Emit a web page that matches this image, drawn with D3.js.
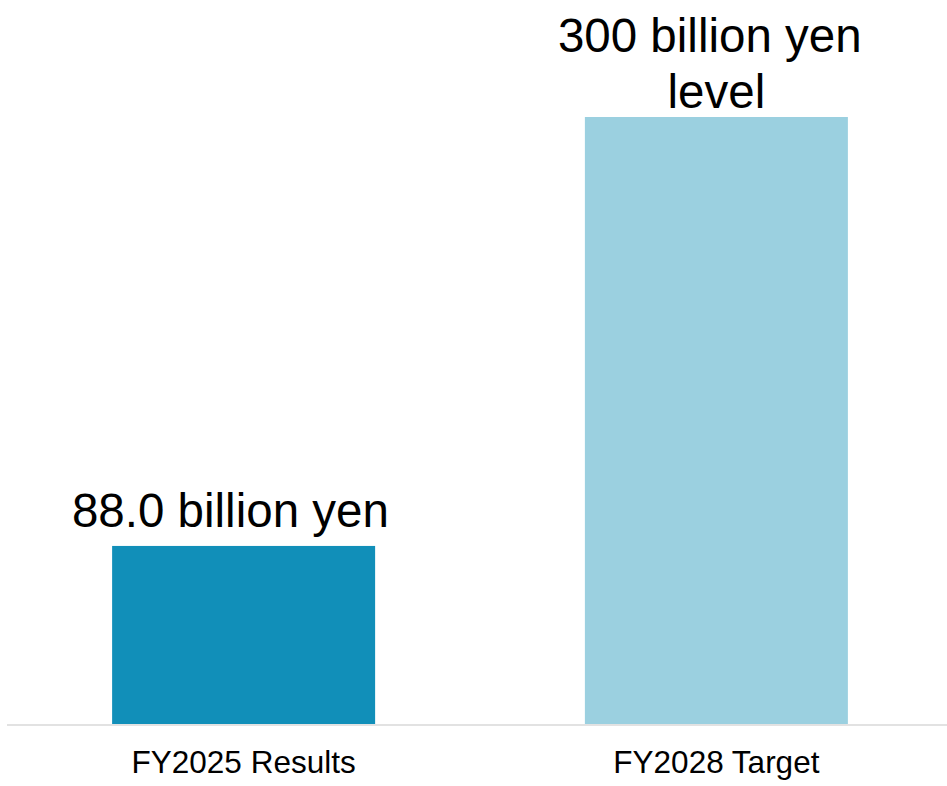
<!DOCTYPE html>
<html>
<head>
<meta charset="utf-8">
<script src="https://cdn.jsdelivr.net/npm/d3@7/dist/d3.min.js"></script>
<style>
  html, body { margin: 0; padding: 0; background: #ffffff; }
  svg { display: block; }
  text { font-family: "Liberation Sans", Arial, Helvetica, sans-serif; fill: #000000; }
</style>
</head>
<body>
<script>
// Operating profit: FY2025 result vs FY2028 target (billion yen)
const categories = ["FY2025 Results", "FY2028 Target"];
const values = [88.0, 300];
const valueLabels = [["88.0 billion yen\u00A0\u00A0"], ["300 billion yen\u00A0", "level"]];
const barColors = ["#118fb9", "#9bd0e0"];

const width = 947, height = 786;

const svg = d3.select("body").append("svg")
  .attr("width", width)
  .attr("height", height);

const x = d3.scaleBand()
  .domain(categories)
  .range([10, 950])
  .paddingInner(0.4437)
  .paddingOuter(0.216);

const y = d3.scaleLinear()
  .domain([0, 300])
  .range([724, 117]);

const data = categories.map((c, i) => ({ cat: c, value: values[i], lines: valueLabels[i], color: barColors[i] }));

// bars
svg.append("g").selectAll("rect")
  .data(data)
  .join("rect")
  .attr("x", d => x(d.cat))
  .attr("y", d => y(d.value))
  .attr("width", x.bandwidth())
  .attr("height", d => y(0) - y(d.value))
  .attr("fill", d => d.color);

// category axis
const axis = svg.append("g")
  .attr("transform", `translate(0,${y(0) + 1})`)
  .call(d3.axisBottom(x).tickSize(0).tickPadding(0));
axis.select(".domain").remove();
axis.append("line")
  .attr("x1", 7).attr("x2", 947)
  .attr("y1", 0).attr("y2", 0)
  .attr("stroke", "#d9d9d9")
  .attr("stroke-width", 1.5);
axis.selectAll(".tick text")
  .attr("y", 48)
  .attr("dy", null)
  .attr("font-size", 31.5)
  .attr("font-family", "\"Liberation Sans\", Arial, sans-serif")
  .attr("fill", "#000");

// value labels above bars
const lineGap = 56;
svg.append("g").selectAll("text")
  .data(data)
  .join("text")
  .attr("text-anchor", "middle")
  .attr("font-size", 47.5)
  .each(function (d) {
    const cx = x(d.cat) + x.bandwidth() / 2;
    const n = d.lines.length;
    const lastBase = y(d.value) - (n > 1 ? 9 : 19);
    d3.select(this).selectAll("tspan")
      .data(d.lines)
      .join("tspan")
      .attr("x", cx)
      .attr("y", (t, i) => lastBase - (n - 1 - i) * lineGap)
      .text(t => t);
  });
</script>
</body>
</html>
